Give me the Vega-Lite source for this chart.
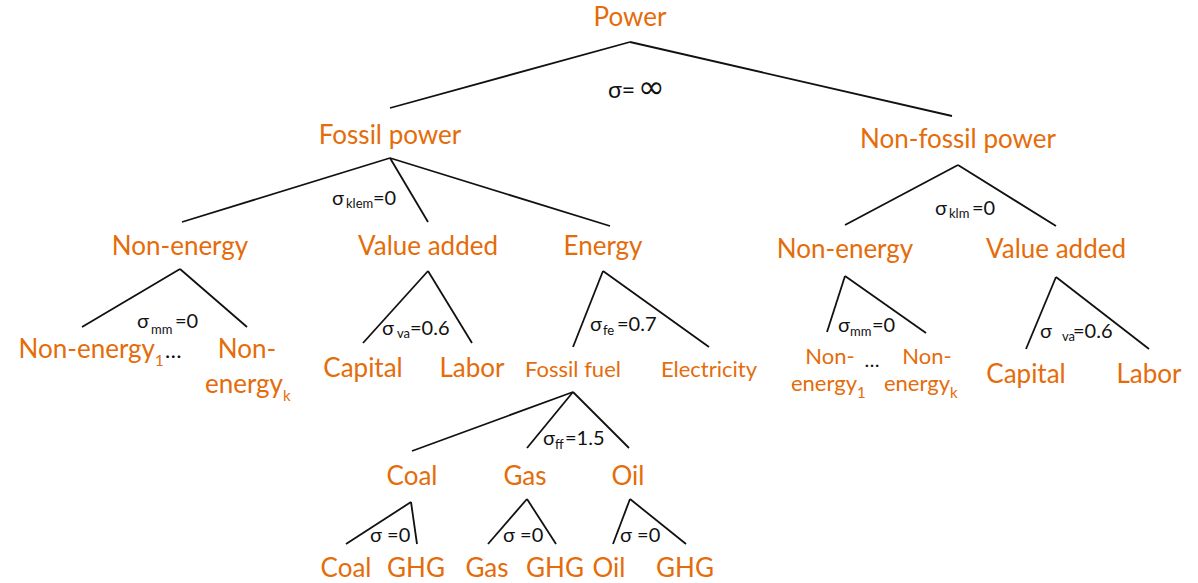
{
  "$schema": "https://vega.github.io/schema/vega-lite/v6.json",
  "width": 1198,
  "height": 583,
  "padding": 0,
  "autosize": {"type": "fit", "contains": "padding"},
  "background": "white",
  "config": {"view": {"stroke": null}, "text": {"font": "Lato", "baseline": "alphabetic"}},
  "datasets": {
    "edges": [
      {"x": 630, "y": 42, "x2": 390, "y2": 108},
      {"x": 630, "y": 42, "x2": 952, "y2": 116},
      {"x": 390, "y": 158, "x2": 182, "y2": 222},
      {"x": 390, "y": 158, "x2": 428, "y2": 222},
      {"x": 390, "y": 158, "x2": 610, "y2": 226},
      {"x": 958, "y": 165, "x2": 845, "y2": 225},
      {"x": 958, "y": 165, "x2": 1056, "y2": 226},
      {"x": 180, "y": 269, "x2": 82, "y2": 327},
      {"x": 180, "y": 269, "x2": 247, "y2": 327},
      {"x": 428, "y": 271, "x2": 363, "y2": 343},
      {"x": 428, "y": 271, "x2": 472, "y2": 343},
      {"x": 603, "y": 271, "x2": 573, "y2": 347},
      {"x": 603, "y": 271, "x2": 709, "y2": 347},
      {"x": 845, "y": 276, "x2": 827, "y2": 332},
      {"x": 845, "y": 276, "x2": 926, "y2": 333},
      {"x": 1056, "y": 277, "x2": 1026, "y2": 349},
      {"x": 1056, "y": 277, "x2": 1149, "y2": 349},
      {"x": 573, "y": 392, "x2": 412, "y2": 451},
      {"x": 573, "y": 392, "x2": 527, "y2": 448},
      {"x": 573, "y": 392, "x2": 629, "y2": 448},
      {"x": 411, "y": 502, "x2": 346, "y2": 544},
      {"x": 411, "y": 502, "x2": 417, "y2": 544},
      {"x": 527, "y": 499, "x2": 488, "y2": 544},
      {"x": 527, "y": 499, "x2": 556, "y2": 544},
      {"x": 630, "y": 499, "x2": 613, "y2": 544},
      {"x": 630, "y": 499, "x2": 686, "y2": 544}
    ],
    "center": [
      {"t": "Power", "x": 630, "y": 26, "kind": "node"},
      {"t": "Fossil power", "x": 390, "y": 144, "kind": "node"},
      {"t": "Non-fossil power", "x": 958, "y": 148, "kind": "node"},
      {"t": "Non-energy", "x": 180, "y": 255, "kind": "node"},
      {"t": "Value added", "x": 428, "y": 255, "kind": "node"},
      {"t": "Energy", "x": 603, "y": 255, "kind": "node"},
      {"t": "Non-energy", "x": 845, "y": 258, "kind": "node"},
      {"t": "Value added", "x": 1056, "y": 258, "kind": "node"},
      {"t": "Capital", "x": 363, "y": 377, "kind": "node"},
      {"t": "Labor", "x": 472, "y": 377, "kind": "node"},
      {"t": "Capital", "x": 1026, "y": 383, "kind": "node"},
      {"t": "Labor", "x": 1149, "y": 383, "kind": "node"},
      {"t": "Fossil fuel", "x": 573, "y": 377, "kind": "leaf"},
      {"t": "Electricity", "x": 709, "y": 377, "kind": "leaf"},
      {"t": "Non-", "x": 247, "y": 358, "kind": "node"},
      {"t": "Non-", "x": 830, "y": 364, "kind": "leaf"},
      {"t": "Non-", "x": 927, "y": 364, "kind": "leaf"},
      {"t": "…", "x": 872, "y": 367, "kind": "dots"},
      {"t": "Coal", "x": 412, "y": 485, "kind": "node"},
      {"t": "Gas", "x": 525, "y": 485, "kind": "node"},
      {"t": "Oil", "x": 628, "y": 485, "kind": "node"},
      {"t": "Coal", "x": 346, "y": 577, "kind": "node"},
      {"t": "GHG", "x": 416, "y": 577, "kind": "node"},
      {"t": "Gas", "x": 487, "y": 577, "kind": "node"},
      {"t": "GHG", "x": 555, "y": 577, "kind": "node"},
      {"t": "Oil", "x": 609, "y": 577, "kind": "node"},
      {"t": "GHG", "x": 685, "y": 577, "kind": "node"}
    ],
    "left": [
      {"t": "σ=", "x": 608, "y": 98, "kind": "sigbig"},
      {"t": "∞", "x": 638, "y": 98, "kind": "inf"},
      {"t": "σ", "x": 332, "y": 205, "kind": "sigma"},
      {"t": "klem", "x": 346, "y": 208, "kind": "sigsub"},
      {"t": "=0", "x": 373, "y": 205, "kind": "sigma"},
      {"t": "σ", "x": 137, "y": 328, "kind": "sigma"},
      {"t": "mm", "x": 151, "y": 334, "kind": "sigsub"},
      {"t": "=0", "x": 175, "y": 328, "kind": "sigma"},
      {"t": "σ", "x": 382, "y": 335, "kind": "sigma"},
      {"t": "va", "x": 397, "y": 338, "kind": "sigsub"},
      {"t": "=0.6", "x": 410, "y": 335, "kind": "sigma"},
      {"t": "σ", "x": 590, "y": 331, "kind": "sigma"},
      {"t": "fe", "x": 603, "y": 335, "kind": "sigsub"},
      {"t": "=0.7", "x": 617, "y": 331, "kind": "sigma"},
      {"t": "σ", "x": 543, "y": 445, "kind": "sigma"},
      {"t": "ff", "x": 555, "y": 449, "kind": "sigsub"},
      {"t": "=1.5", "x": 565, "y": 445, "kind": "sigma"},
      {"t": "σ", "x": 935, "y": 215, "kind": "sigma"},
      {"t": "klm", "x": 949, "y": 218, "kind": "sigsub"},
      {"t": "=0", "x": 972, "y": 215, "kind": "sigma"},
      {"t": "σ", "x": 838, "y": 332, "kind": "sigma"},
      {"t": "mm", "x": 850, "y": 336, "kind": "sigsub"},
      {"t": "=0", "x": 872, "y": 332, "kind": "sigma"},
      {"t": "σ", "x": 1040, "y": 338, "kind": "sigma"},
      {"t": "va", "x": 1062, "y": 341, "kind": "sigsub"},
      {"t": "=0.6", "x": 1073, "y": 338, "kind": "sigma"},
      {"t": "σ =0", "x": 370, "y": 542, "kind": "sigma"},
      {"t": "σ =0", "x": 503, "y": 542, "kind": "sigma"},
      {"t": "σ =0", "x": 620, "y": 542, "kind": "sigma"},
      {"t": "1", "x": 155, "y": 366, "kind": "sub"},
      {"t": "…", "x": 165, "y": 358, "kind": "dots"},
      {"t": "k", "x": 283, "y": 401, "kind": "sub"},
      {"t": "1", "x": 857, "y": 398, "kind": "sub"},
      {"t": "k", "x": 950, "y": 398, "kind": "sub"}
    ],
    "right": [
      {"t": "Non-energy", "x": 155, "y": 358, "kind": "node"},
      {"t": "energy", "x": 283, "y": 393, "kind": "node"},
      {"t": "energy", "x": 857, "y": 391, "kind": "leaf"},
      {"t": "energy", "x": 950, "y": 391, "kind": "leaf"}
    ]
  },
  "encoding": {
    "x": {"field": "x", "type": "quantitative", "axis": null, "scale": {"domain": [0, 1198], "nice": false, "zero": false}},
    "y": {"field": "y", "type": "quantitative", "axis": null, "scale": {"domain": [0, 583], "nice": false, "zero": false, "reverse": true}}
  },
  "layer": [
    {
      "data": {"name": "edges"},
      "mark": {"type": "rule", "stroke": "#111111", "strokeWidth": 1.8},
      "encoding": {"x2": {"field": "x2"}, "y2": {"field": "y2"}}
    },
    {
      "data": {"name": "center"},
      "encoding": {"text": {"field": "t"}},
      "layer": [
        {"transform": [{"filter": "datum.kind == 'node'"}], "mark": {"type": "text", "align": "center", "fontSize": 26, "fill": "#E46C0A"}},
        {"transform": [{"filter": "datum.kind == 'leaf'"}], "mark": {"type": "text", "align": "center", "fontSize": 22, "fill": "#E46C0A"}},
        {"transform": [{"filter": "datum.kind == 'dots'"}], "mark": {"type": "text", "align": "center", "fontSize": 20, "fill": "#111111"}}
      ]
    },
    {
      "data": {"name": "left"},
      "encoding": {"text": {"field": "t"}},
      "layer": [
        {"transform": [{"filter": "datum.kind == 'sigbig'"}], "mark": {"type": "text", "align": "left", "fontSize": 23, "fill": "#111111"}},
        {"transform": [{"filter": "datum.kind == 'inf'"}], "mark": {"type": "text", "align": "left", "fontSize": 32, "fill": "#111111", "font": "DejaVu Sans"}},
        {"transform": [{"filter": "datum.kind == 'sigma'"}], "mark": {"type": "text", "align": "left", "fontSize": 20, "fill": "#111111"}},
        {"transform": [{"filter": "datum.kind == 'sigsub'"}], "mark": {"type": "text", "align": "left", "fontSize": 13, "fill": "#111111"}},
        {"transform": [{"filter": "datum.kind == 'sub'"}], "mark": {"type": "text", "align": "left", "fontSize": 15, "fill": "#E46C0A"}},
        {"transform": [{"filter": "datum.kind == 'dots'"}], "mark": {"type": "text", "align": "left", "fontSize": 22, "fill": "#111111"}}
      ]
    },
    {
      "data": {"name": "right"},
      "encoding": {"text": {"field": "t"}},
      "layer": [
        {"transform": [{"filter": "datum.kind == 'node'"}], "mark": {"type": "text", "align": "right", "fontSize": 26, "fill": "#E46C0A"}},
        {"transform": [{"filter": "datum.kind == 'leaf'"}], "mark": {"type": "text", "align": "right", "fontSize": 22, "fill": "#E46C0A"}}
      ]
    }
  ]
}
